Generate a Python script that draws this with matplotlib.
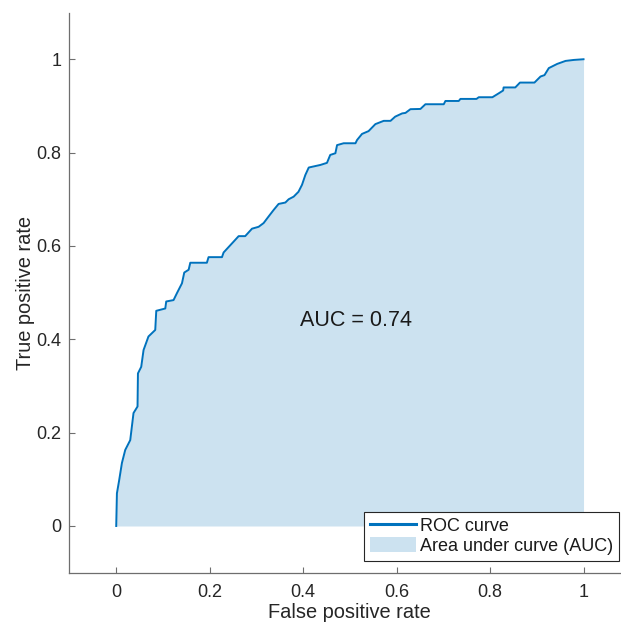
import matplotlib
matplotlib.use("Agg")
import matplotlib.pyplot as plt
import numpy as np

plt.rcParams['font.family'] = ['Liberation Sans', 'DejaVu Sans']

# ROC curve values
fpr = [0.0, 0.0015, 0.0064, 0.0122, 0.0193, 0.030, 0.037, 0.0456, 0.0465, 0.0535,
       0.0585, 0.069, 0.0835, 0.0857, 0.105, 0.107, 0.1227, 0.130, 0.1407, 0.1456,
       0.155, 0.1585, 0.194, 0.1976, 0.2263, 0.2298, 0.251, 0.262, 0.276, 0.2906,
       0.3047, 0.3154, 0.326, 0.3368, 0.3475, 0.362, 0.369, 0.3797, 0.390, 0.3976,
       0.4047, 0.412, 0.4368, 0.451, 0.458, 0.469, 0.4726, 0.4867, 0.512, 0.5154,
       0.526, 0.540, 0.5546, 0.5724, 0.587, 0.597, 0.612, 0.619, 0.6296, 0.651,
       0.6617, 0.7009, 0.7045, 0.733, 0.7366, 0.771, 0.7758, 0.805, 0.8186, 0.828,
       0.829, 0.854, 0.864, 0.895, 0.908, 0.9165, 0.9257, 0.9437, 0.9615, 0.979, 1.0]
tpr = [0.0, 0.070, 0.0986, 0.135, 0.163, 0.184, 0.242, 0.256, 0.327, 0.341,
       0.377, 0.406, 0.420, 0.461, 0.466, 0.481, 0.484, 0.499, 0.520, 0.543,
       0.549, 0.564, 0.564, 0.576, 0.576, 0.586, 0.609, 0.621, 0.621, 0.637,
       0.641, 0.649, 0.663, 0.677, 0.690, 0.693, 0.700, 0.7056, 0.716, 0.731,
       0.752, 0.768, 0.7735, 0.778, 0.795, 0.7986, 0.816, 0.820, 0.820, 0.827,
       0.840, 0.846, 0.861, 0.868, 0.868, 0.877, 0.884, 0.885, 0.893, 0.8935,
       0.9036, 0.9036, 0.9106, 0.9106, 0.915, 0.915, 0.9186, 0.9186, 0.927, 0.933,
       0.9396, 0.9396, 0.950, 0.950, 0.963, 0.966, 0.981, 0.990, 0.9964, 0.9985, 1.0]
auc_value = 0.74
ticks = [0, 0.2, 0.4, 0.6, 0.8, 1]
tick_labels = ["0", "0.2", "0.4", "0.6", "0.8", "1"]

line_color = '#0072BD'
fill_color = '#cce2f0'
axis_color = '#6e6e6e'

fig = plt.figure(figsize=(6.21, 6.22), dpi=100)
ax = fig.add_axes([0.1119, 0.0793, 0.903, 0.9005])

ax.fill_between(fpr, 0, tpr, color=fill_color, linewidth=0, label='Area under curve (AUC)', zorder=1)
ax.plot(fpr, tpr, color=line_color, linewidth=1.4, label='ROC curve', zorder=2)

ax.set_xlim(-0.1, 1.1)
ax.set_ylim(-0.1, 1.1)
ax.set_xticks(ticks)
ax.set_xticklabels(tick_labels)
ax.set_yticks(ticks)
ax.set_yticklabels(tick_labels)

for s in ['top', 'right']:
    ax.spines[s].set_visible(False)
for s in ['left', 'bottom']:
    ax.spines[s].set_color(axis_color)
    ax.spines[s].set_linewidth(0.9)

ax.tick_params(direction='in', length=4.5, width=0.8, color=axis_color,
               labelsize=13, labelcolor='#262626', pad=6)
ax.tick_params(axis='x', pad=8)

ax.set_xlabel('False positive rate', fontsize=14.4, color='#262626', labelpad=1.5)
ax.set_ylabel('True positive rate', fontsize=14.4, color='#262626', labelpad=0.5)

ax.text(0.394, 0.44, 'AUC = %.2f' % auc_value, fontsize=15.5, color='#1a1a1a',
        ha='left', va='center')

handles, labels = ax.get_legend_handles_labels()
order = [1, 0]
leg = ax.legend([handles[i] for i in order], [labels[i] for i in order],
                loc='lower right', bbox_to_anchor=(0.9968, 0.0986),
                bbox_transform=fig.transFigure, fontsize=13, frameon=True,
                fancybox=False, framealpha=1, edgecolor='#262626',
                handlelength=2.55, handleheight=0.89, handletextpad=0.22,
                borderpad=0.33, labelspacing=0.1, borderaxespad=0)
leg.get_frame().set_linewidth(0.8)
for t in leg.get_texts():
    t.set_color('#1a1a1a')
for l in leg.get_lines():
    l.set_linewidth(2.2)

fig.savefig('out.png', dpi=100)
